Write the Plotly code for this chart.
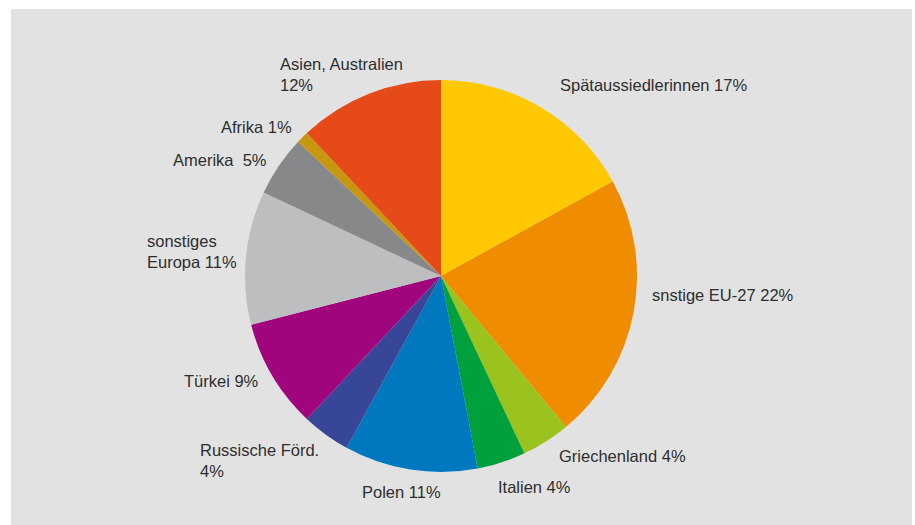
import plotly.graph_objects as go

W, H = 915, 525

categories = ["Spätaussiedlerinnen", "snstige EU-27", "Griechenland", "Italien", "Polen",
              "Russische Förd.", "Türkei", "sonstiges Europa", "Amerika", "Afrika",
              "Asien, Australien"]
values = [17, 22, 4, 4, 11, 4, 9, 11, 5, 1, 12]
colors = ["#FFC800", "#F08C00", "#9BC31E", "#00A03C", "#0078C0", "#374696",
          "#A0057E", "#BDBEC0", "#87888A", "#C8960F", "#E64A19"]
label_texts = ["Spätaussiedlerinnen 17%", "snstige EU-27 22%", "Griechenland 4%",
               "Italien 4%", "Polen 11%", "Russische Förd.<br>4%", "Türkei 9%",
               "sonstiges<br>Europa 11%", "Amerika  5%", "Afrika 1%",
               "Asien, Australien<br>12%"]
# label anchor positions in pixels (left edge, vertical centre)
label_px = [(558, 85), (650, 295), (557, 456), (496, 487), (360, 492), (198, 460),
            (182, 381), (145, 251), (171, 160), (219, 127), (278, 74)]

cx, cy, r = 441, 276, 196

fig = go.Figure(go.Pie(
    labels=categories, values=values, sort=False, direction="clockwise", rotation=0,
    marker=dict(colors=colors, line=dict(width=0)),
    textinfo="none", hoverinfo="label+percent", showlegend=False,
    domain=dict(x=[(cx - r) / W, (cx + r) / W], y=[1 - (cy + r) / H, 1 - (cy - r) / H]),
))

annotations = []
for t, (px, py) in zip(label_texts, label_px):
    annotations.append(dict(
        text=t, x=px / W, y=1 - py / H, xref="paper", yref="paper",
        xanchor="left", yanchor="middle", align="left", showarrow=False,
        font=dict(family="Liberation Sans, Arial, sans-serif", size=16.5, color="#2E2E2E"),
    ))

fig.update_layout(
    width=W, height=H, margin=dict(l=0, r=0, t=0, b=0),
    paper_bgcolor="white", plot_bgcolor="white",
    shapes=[dict(type="rect", xref="paper", yref="paper", x0=11 / W, x1=912 / W,
                 y0=0, y1=1 - 9 / H, fillcolor="#E2E2E2", line=dict(width=0), layer="below")],
    annotations=annotations,
)

fig.write_html("out.html")
